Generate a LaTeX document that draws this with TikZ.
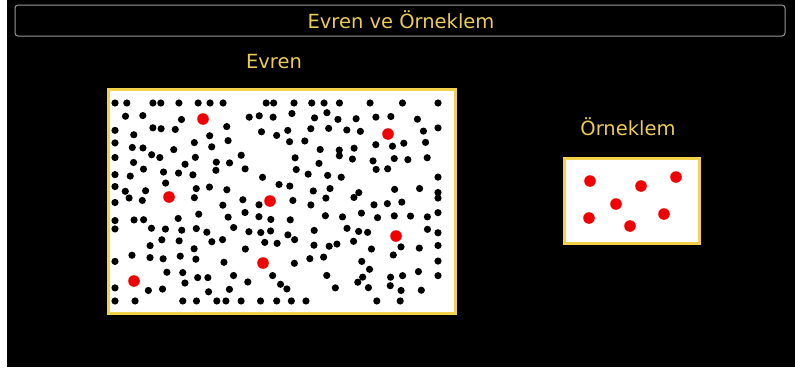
\documentclass[tikz,border=0pt]{standalone}
\usepackage{fontspec}
\setmainfont{DejaVu Sans}
\definecolor{ttl}{HTML}{EBCB55}
\definecolor{frame}{HTML}{F2D24A}
\definecolor{redd}{HTML}{F00000}
\newcommand\reddots{203/119,388/134,169/197,270/201,396/236,263/263,134/281}
\begin{document}
\begin{tikzpicture}[x=1pt,y=-1pt,
  lbl/.style={text=ttl,font=\fontsize{19.5}{22}\selectfont,inner sep=0pt},
  bdot/.style={fill=black},
  rdot/.style={fill=redd},
  boxframe/.style={draw=frame,line width=3.5pt,fill=white}]
\useasboundingbox (0,0) rectangle (795,367);
\fill[white] (0,0) rectangle (795,367);
\fill[black] (7,0) rectangle (795,367);
% title bar
\draw[gray!80,line width=1pt,rounded corners=3pt] (15,5) rectangle (785,36);
\node[lbl] (title) at (401,20) {Evren ve Örneklem};
\node[lbl] (evren) at (274,62) {Evren};
\node[lbl] (ornek) at (628,127) {Örneklem};
% boxes
\draw[boxframe] (108.5,89.5) rectangle (455.5,313.5);
\draw[boxframe] (564.5,158.5) rectangle (699.5,243.5);
% black dots
\pgfmathsetseed{27182}
\foreach \i in {0,...,20}{
  \foreach \j in {0,...,14}{
    \pgfmathsetmacro\px{115+16.15*\i}
    \pgfmathsetmacro\py{103+14.14*\j}
    \pgfmathsetmacro\jx{(\i==0||\i==20)?0:rand*6}
    \pgfmathsetmacro\jy{(\j==0||\j==14)?0:rand*5}
    \pgfmathsetmacro\qx{\px+\jx}
    \pgfmathsetmacro\qy{\py+\jy}
    \pgfmathsetmacro\keep{rnd}
    \gdef\near{0}
    \foreach \rx/\ry in \reddots{
      \pgfmathparse{(abs(\qx-\rx)<10.5)*(abs(\qy-\ry)<10.5)}
      \ifdim\pgfmathresult pt>0.5pt \gdef\near{1}\fi
    }
    \ifdim\keep pt>0.25pt
      \ifnum\near=0
        \fill[bdot] (\qx,\qy) circle (3.6);
      \fi
    \fi
  }
}
% red dots big box
\foreach \x/\y in \reddots{
  \fill[rdot] (\x,\y) circle (5.8);
}
% red dots small box
\foreach \x/\y in {590/181,641/186,676/177,616/204,589/218,664/214,630/226}{
  \fill[rdot] (\x,\y) circle (5.8);
}
\end{tikzpicture}
\end{document}
